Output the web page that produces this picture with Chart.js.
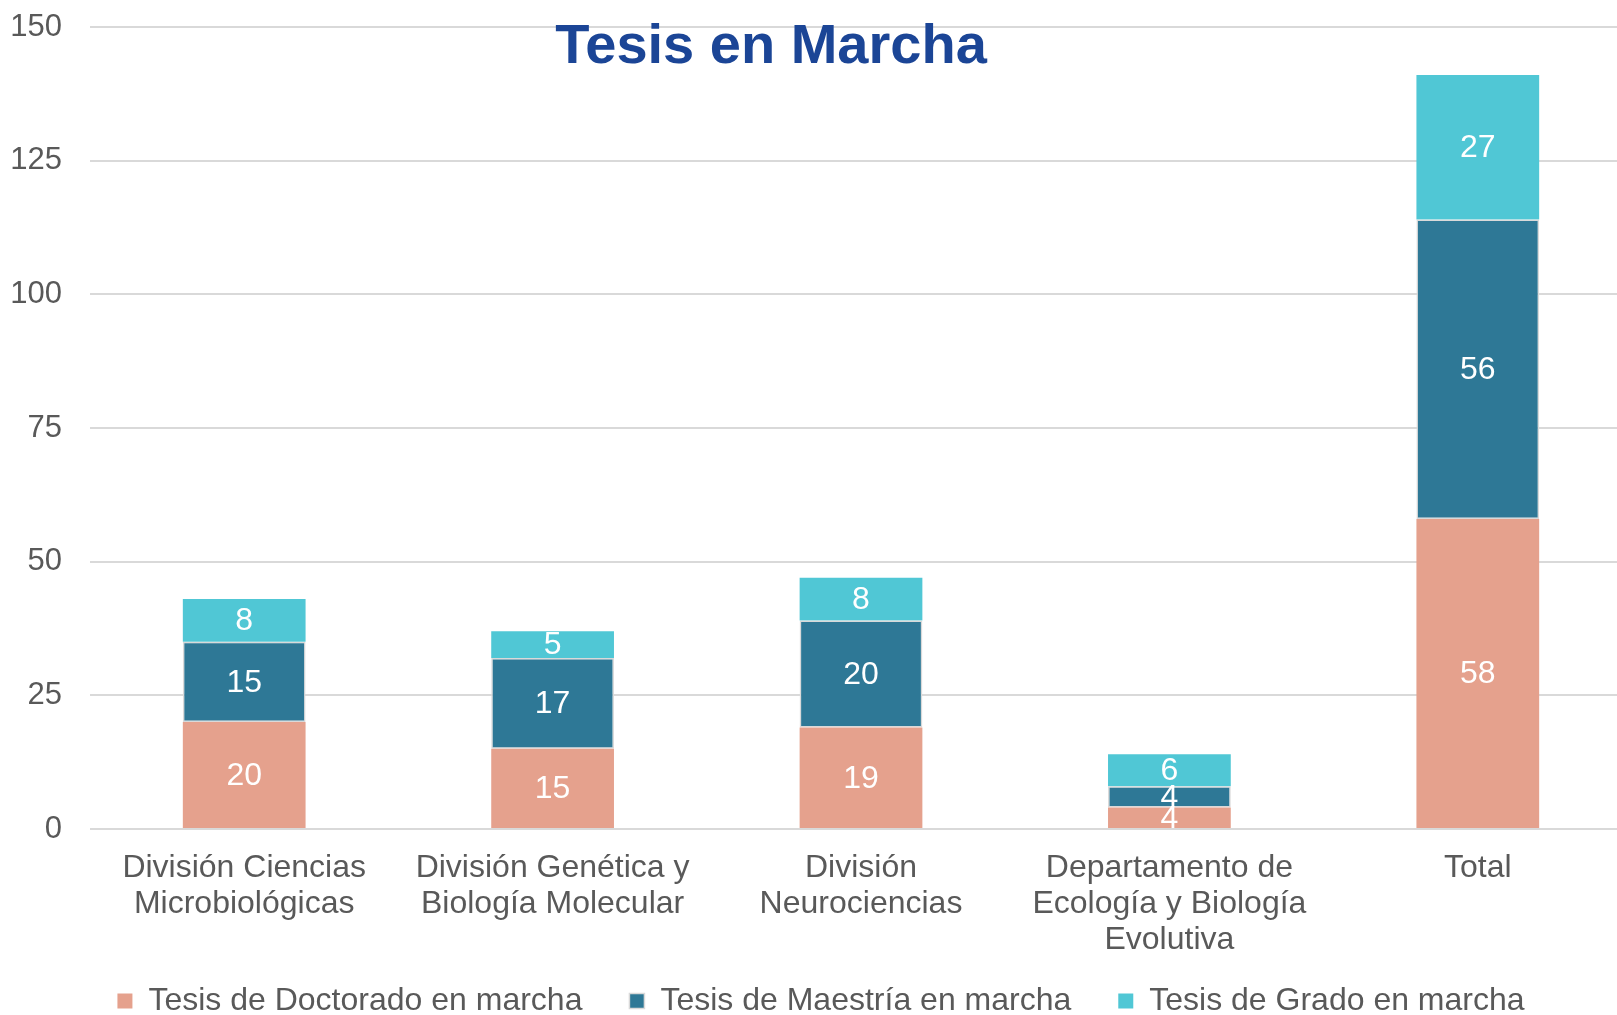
<!DOCTYPE html>
<html>
<head>
<meta charset="utf-8">
<script src="https://cdn.jsdelivr.net/npm/chart.js@4"></script>
<style>
html,body{margin:0;padding:0;overflow:hidden;background:#fff;}
#wrap{position:relative;width:1632px;height:1015px;}
</style>
</head>
<body>
<div id="wrap"><canvas id="c" width="1632" height="1015"></canvas></div>
<script>
const categories = [
  ['División Ciencias', 'Microbiológicas'],
  ['División Genética y', 'Biología Molecular'],
  ['División', 'Neurociencias'],
  ['Departamento de', 'Ecología y Biología', 'Evolutiva'],
  'Total'
];
const doctorado = [20, 15, 19, 4, 58];
const maestria = [15, 17, 20, 4, 56];
const grado = [8, 5, 8, 6, 27];
const seriesNames = ['Tesis de Doctorado en marcha', 'Tesis de Maestría en marcha', 'Tesis de Grado en marcha'];
const yTicks = [0, 25, 50, 75, 100, 125, 150];
const titleText = 'Tesis en Marcha';

const FONT = "'Liberation Sans', Arial, sans-serif";
const TEXT = '#595959';

const titlePlugin = {
  id: 'fixedTitle',
  afterDraw(chart) {
    const ctx = chart.ctx;
    ctx.save();
    ctx.font = 'bold 56px ' + FONT;
    ctx.fillStyle = '#1B4596';
    ctx.textAlign = 'center';
    ctx.textBaseline = 'alphabetic';
    ctx.fillText(titleText, 771, 63);
    ctx.restore();
  }
};

// let the x-axis labels (3rd line) draw beyond the axis box without clipping
const unclipX = {
  id: 'unclipX',
  afterLayout(chart) {
    const x = chart.scales.x;
    if (x) { x.bottom = chart.height; }
  }
};

const valueLabels = {
  id: 'valueLabels',
  afterDatasetsDraw(chart) {
    const ctx = chart.ctx;
    ctx.save();
    ctx.font = '32px ' + FONT;
    ctx.fillStyle = '#ffffff';
    ctx.textAlign = 'center';
    ctx.textBaseline = 'middle';
    chart.data.datasets.forEach((ds, i) => {
      const meta = chart.getDatasetMeta(i);
      meta.data.forEach((bar, j) => {
        const v = ds.data[j];
        const cy = (bar.y + bar.base) / 2;
        ctx.fillText(String(v), bar.x, cy + 1);
      });
    });
    ctx.restore();
  }
};

new Chart(document.getElementById('c'), {
  type: 'bar',
  data: {
    labels: categories,
    datasets: [
      { label: seriesNames[0], data: doctorado, backgroundColor: '#E5A18D', borderColor: '#E5A18D', borderWidth: 0 },
      { label: seriesNames[1], data: maestria, backgroundColor: '#2E7896', borderColor: '#D9D9D9', borderWidth: 1.5, borderSkipped: false },
      { label: seriesNames[2], data: grado, backgroundColor: '#50C7D5', borderColor: '#50C7D5', borderWidth: 0 }
    ]
  },
  options: {
    responsive: false,
    animation: false,
    devicePixelRatio: 1,
    layout: { padding: { left: 10, right: 0, top: 27, bottom: -12 } },
    datasets: { bar: { categoryPercentage: 1.0, barPercentage: 0.398 } },
    scales: {
      x: {
        stacked: true,
        grid: { display: false, drawTicks: false },
        border: { display: false },
        ticks: {
          color: TEXT,
          font: { family: FONT, size: 32, lineHeight: 1.125 },
          padding: 21,
          maxRotation: 0,
          autoSkip: false
        },
        afterFit(scale) { scale.paddingLeft = 0; scale.paddingRight = 0; scale.height = 109; }
      },
      y: {
        stacked: true,
        min: 0,
        max: 150,
        afterBuildTicks(axis) { axis.ticks = yTicks.map(v => ({ value: v })); },
        grid: { color: '#D9D9D9', lineWidth: 2, drawTicks: false },
        border: { display: false },
        ticks: {
          color: TEXT,
          font: { family: FONT, size: 31 },
          padding: 28
        },
        afterFit(scale) { scale.width = 80; scale.paddingTop = 0; scale.paddingBottom = 0; }
      }
    },
    plugins: {
      title: { display: false },
      tooltip: { enabled: false },
      legend: {
        position: 'bottom',
        labels: {
          color: TEXT,
          font: { family: FONT, size: 32 },
          boxWidth: 15,
          boxHeight: 15,
          padding: 47
        }
      }
    }
  },
  plugins: [titlePlugin, unclipX, valueLabels]
});
</script>
</body>
</html>
